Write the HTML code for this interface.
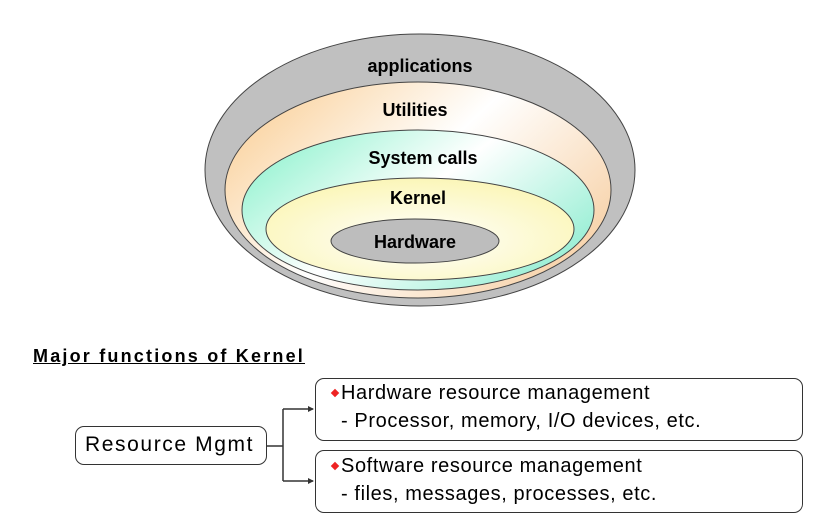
<!DOCTYPE html>
<html><head><style>
body{margin:0;width:826px;height:527px;background:#fff;overflow:hidden;position:relative;font-family:"Liberation Sans",sans-serif}
.b{position:absolute;border:1.5px solid #333;border-radius:9px;background:#fff;box-sizing:border-box}
.t{position:absolute;font-size:20px;color:#000;white-space:nowrap;letter-spacing:0.6px}
.d{position:absolute;width:6px;height:6px;background:#e22;transform:rotate(45deg)}
</style></head><body>
<svg width="826" height="527" style="position:absolute;left:0;top:0">
<defs>
<linearGradient id="u" x1="0" y1="0" x2="1" y2="0.6"><stop offset="0" stop-color="#f9c98a"/><stop offset="0.55" stop-color="#fff"/><stop offset="1" stop-color="#f8d6b0"/></linearGradient>
<linearGradient id="s" x1="0" y1="0" x2="1" y2="0.6"><stop offset="0" stop-color="#80f0c8"/><stop offset="0.55" stop-color="#fff"/><stop offset="1" stop-color="#a0f0d8"/></linearGradient>
<radialGradient id="k" cx="0.5" cy="0.6" r="0.6"><stop offset="0" stop-color="#fff"/><stop offset="1" stop-color="#fbf6b8"/></radialGradient>
</defs>
<ellipse cx="420" cy="170" rx="215" ry="136" fill="#c0c0c0" stroke="#444" stroke-width="1"/>
<ellipse cx="418" cy="190" rx="193" ry="108" fill="url(#u)" stroke="#444" stroke-width="1"/>
<ellipse cx="418" cy="210" rx="176" ry="80" fill="url(#s)" stroke="#444" stroke-width="1"/>
<ellipse cx="420" cy="229" rx="154" ry="51" fill="url(#k)" stroke="#444" stroke-width="1"/>
<ellipse cx="415" cy="241" rx="84" ry="22" fill="#bdbdbd" stroke="#444" stroke-width="1"/>
<g font-family="Liberation Sans" font-weight="bold" font-size="18" text-anchor="middle" fill="#000">
<text x="420" y="72">applications</text>
<text x="415" y="116">Utilities</text>
<text x="423" y="164">System calls</text>
<text x="418" y="204">Kernel</text>
<text x="415" y="248">Hardware</text>
</g>
<path d="M267 446 H283 M283 409 V481 M283 409 H313 M283 481 H313" stroke="#333" stroke-width="1.5" fill="none"/>
<path d="M314 409 l-6 -3 v6z M314 481 l-6 -3 v6z" fill="#333"/>
</svg>
<div class="t" style="left:33px;top:346px;font-weight:bold;font-size:18px;letter-spacing:2.2px;text-decoration:underline">Major functions of Kernel</div>
<div class="b" style="left:75px;top:426px;width:192px;height:39px"></div>
<div class="t" style="left:85px;top:433px;font-size:21px;letter-spacing:1.6px">Resource Mgmt</div>
<div class="b" style="left:315px;top:378px;width:488px;height:63px"></div>
<div class="d" style="left:332px;top:390px"></div>
<div class="t" style="left:341px;top:382px">Hardware resource management</div>
<div class="t" style="left:341px;top:410px">- Processor, memory, I/O devices, etc.</div>
<div class="b" style="left:315px;top:450px;width:488px;height:63px"></div>
<div class="d" style="left:332px;top:463px"></div>
<div class="t" style="left:341px;top:455px">Software resource management</div>
<div class="t" style="left:341px;top:483px">- files, messages, processes, etc.</div>
</body></html>
